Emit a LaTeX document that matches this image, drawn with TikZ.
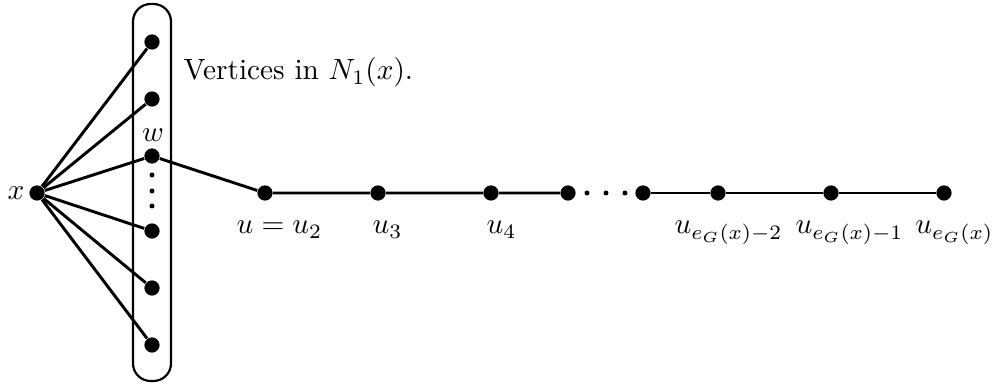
\documentclass[tikz,border=0pt]{standalone}
\begin{document}
\begin{tikzpicture}[x=0.012cm,y=-0.012cm,
  vtx/.style={circle,fill=black,inner sep=0pt,minimum size=5.2pt},
  sdot/.style={circle,fill=black,inner sep=0pt,minimum size=1.7pt},
  edge/.style={line width=1pt},
  lbl/.style={anchor=base west,inner sep=0pt}]
\useasboundingbox (0,0) rectangle (995,385);
% group box
\draw[line width=0.75pt,rounded corners=6pt] (133,4) rectangle (171,381);
\node (x) [vtx] at (37,193) {};
\node at (16,193) {$x$};
\node (a1) [vtx] at (152,42) {};
\node (a2) [vtx] at (152,99) {};
\node (w) [vtx] at (152,156) {};
\node at (153,135) {$w$};
\node (a4) [vtx] at (152,231) {};
\node (a5) [vtx] at (152,288) {};
\node (a6) [vtx] at (152,345) {};
\node (vd1) [sdot] at (152,175) {};
\node (vd2) [sdot] at (152,191) {};
\node (vd3) [sdot] at (152,206) {};
\foreach \n in {a1,a2,w,a4,a5,a6} \draw[edge] (x) -- (\n);
\node[lbl] at (183,80) {Vertices in $N_1(x)$.};
% path
\node (u2) [vtx] at (265,193) {};
\node (u3) [vtx] at (378,193) {};
\node (u4) [vtx] at (491,193) {};
\node (u5) [vtx] at (568,193) {};
\node (u6) [vtx] at (643,193) {};
\node (u7) [vtx] at (718,193) {};
\node (u8) [vtx] at (831,193) {};
\node (u9) [vtx] at (944,193) {};
\node (hd1) [sdot] at (587,193) {};
\node (hd2) [sdot] at (606,193) {};
\node (hd3) [sdot] at (625,193) {};
\draw[edge] (w) -- (u2) -- (u3) -- (u4) -- (u5);
\draw[edge] (u6) -- (u7) -- (u8) -- (u9);
\node[lbl] at (236,234) {$u=u_2$};
\node[lbl] at (372,234) {$u_3$};
\node[lbl] at (486,234) {$u_4$};
\node[lbl] at (674,234) {$u_{e_G(x)-2}$};
\node[lbl] at (795,234) {$u_{e_G(x)-1}$};
\node[anchor=base east,inner sep=0pt] at (994,234) {$u_{e_G(x)}$};
\end{tikzpicture}
\end{document}
